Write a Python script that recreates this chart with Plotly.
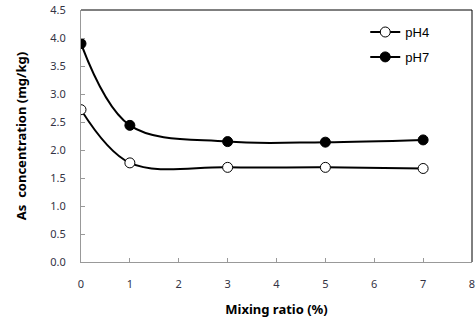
import plotly.graph_objects as go

mixing_ratio = [0, 1, 3, 5, 7]
ph4 = [2.72, 1.77, 1.69, 1.69, 1.67]
ph7 = [3.90, 2.44, 2.15, 2.14, 2.18]
series_names = ["pH4", "pH7"]
x_ticks = [0, 1, 2, 3, 4, 5, 6, 7, 8]
y_ticks = [0.0, 0.5, 1.0, 1.5, 2.0, 2.5, 3.0, 3.5, 4.0, 4.5]

fig = go.Figure()
fig.add_trace(go.Scatter(
    x=mixing_ratio, y=ph4, name=series_names[0], mode="lines+markers", legendgroup="a",
    line=dict(color="black", width=2, shape="spline", smoothing=1),
    marker=dict(symbol="circle", size=10, color="white", line=dict(color="black", width=1)),
))
fig.add_trace(go.Scatter(
    x=mixing_ratio, y=ph7, name=series_names[1], mode="lines+markers", legendgroup="b",
    line=dict(color="black", width=2, shape="spline", smoothing=1),
    marker=dict(symbol="circle", size=10, color="black", line=dict(color="black", width=1)),
))

tickfont = dict(family="Noto Sans, DejaVu Sans, sans-serif", size=11, color="#333344")
titlefont = dict(family="Noto Sans, DejaVu Sans, sans-serif", size=13, color="black")

fig.update_layout(
    width=476, height=322,
    margin=dict(l=81, r=4, t=10, b=60, autoexpand=False),
    paper_bgcolor="white", plot_bgcolor="white",
    showlegend=True,
    legend=dict(x=0.727, y=0.972, xanchor="left", yanchor="top",
                bgcolor="rgba(0,0,0,0)", font=dict(family="Liberation Sans, Arial", size=13, color="black"),
                itemwidth=30, tracegroupgap=5),
    xaxis=dict(range=[0, 8], tickvals=x_ticks, ticktext=[str(v) for v in x_ticks],
               showgrid=False, zeroline=False, showline=True, linecolor="#999999", linewidth=1,
               ticks="inside", ticklen=4, tickcolor="#999999", tickfont=tickfont,
               ticklabelstandoff=12, automargin=False,
               title=dict(text="<b>Mixing ratio (%)</b>", font=titlefont, standoff=14)),
    yaxis=dict(range=[0, 4.5], tickvals=y_ticks, ticktext=[f"{v:.1f}" for v in y_ticks],
               showgrid=False, zeroline=False, showline=True, linecolor="#999999", linewidth=1,
               ticks="inside", ticklen=4, tickcolor="#999999", tickfont=tickfont,
               ticklabelstandoff=12, automargin=False,
               title=dict(text="<b>As  concentration (mg/kg)</b>", font=titlefont, standoff=20)),
    shapes=[
        dict(type="line", xref="paper", yref="paper", x0=0, x1=1, y0=1, y1=1, line=dict(color="black", width=1)),
        dict(type="line", xref="paper", yref="paper", x0=1, x1=1, y0=0, y1=1, line=dict(color="black", width=1)),
    ],
)

fig.write_html("out.html", config={"displayModeBar": False},
               post_script="document.body.style.margin='0';document.body.style.overflow='hidden';")
